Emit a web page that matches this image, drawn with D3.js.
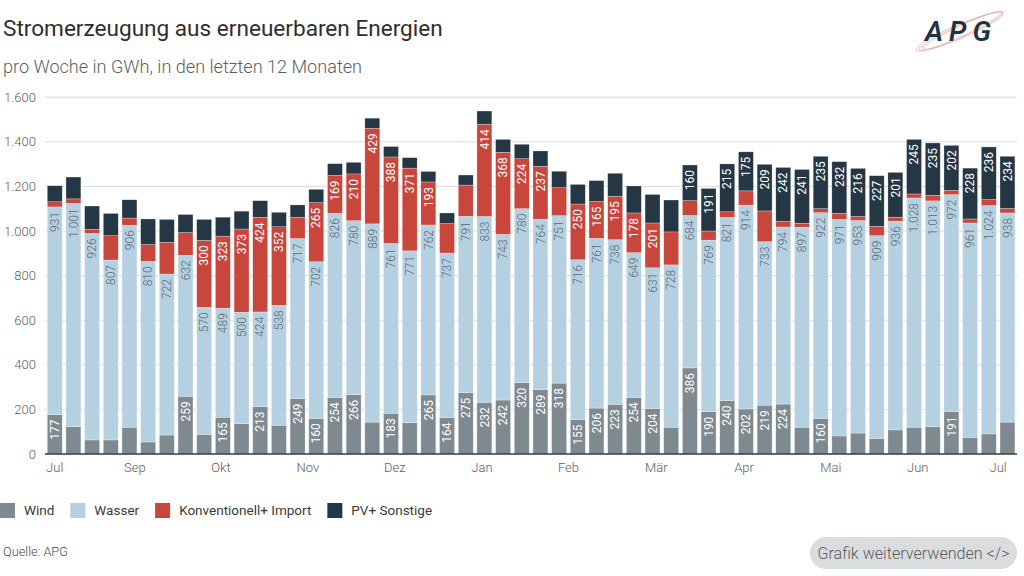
<!DOCTYPE html>
<html>
<head>
<meta charset="utf-8">
<script src="https://cdn.jsdelivr.net/npm/d3@7"></script>
<style>
  html, body { margin: 0; padding: 0; background: #fff; }
  svg { display: block; }
  text { font-family: Roboto, "Open Sans", sans-serif; }
</style>
</head>
<body>
<svg id="chart" width="1024" height="576"></svg>
<script>
// ---------- data ----------
const seriesNames = ["Wind", "Wasser", "Konventionell+ Import", "PV+ Sonstige"];
const wind   = [177,123,63,63,120,54,85,259,88,165,136,213,129,249,160,254,266,143,183,140,265,164,275,232,242,320,289,318,155,206,223,254,204,120,386,190,240,202,219,224,120,160,81,94,70,108,120,122,191,75,90,143];
const wasser = [931,1001,926,807,906,810,722,632,570,489,500,424,538,717,702,826,780,889,761,771,762,737,791,833,743,780,764,751,716,761,738,649,631,728,684,769,821,914,733,794,897,922,971,953,909,936,1028,1013,972,961,1024,938];
const konv   = [23,20,18,109,32,75,142,102,300,323,373,424,352,95,265,169,210,429,388,371,193,132,140,414,368,224,237,125,250,165,195,178,201,148,66,41,25,64,138,25,18,18,27,18,42,18,18,25,19,18,27,20];
const pv     = [72,98,105,100,82,115,103,81,94,85,80,75,65,56,60,53,52,45,47,47,47,48,45,59,58,65,69,74,88,94,103,121,128,143,160,191,215,175,209,242,241,235,232,216,227,201,245,235,202,228,236,234];
const weeks  = wind.map((_, i) => "W" + (i + 1));
const monthLabels = ["Jul","Sep","Okt","Nov","Dez","Jan","Feb","Mär","Apr","Mai","Jun","Jul"];
const monthTickWeek = [0, 4.29, 8.9, 13.55, 18.2, 22.87, 27.5, 32.2, 36.9, 41.55, 46.2, 50.5];
const yTicks = [0, 200, 400, 600, 800, 1000, 1200, 1400, 1600];

const colors = ["#7e8990", "#b5d0e1", "#c8463c", "#253745"];
const labelColors = ["#ffffff", "#5c6870", "#ffffff", "#ffffff"];
const labelMin = 150;

// ---------- setup ----------
const svg = d3.select("#chart");
const de = d3.formatLocale({decimal: ",", thousands: ".", grouping: [3], currency: ["", " €"]});
const fmt = de.format(",");

function fitText(sel, target) {
  const node = sel.node();
  let fs = parseFloat(sel.attr("font-size"));
  const w = node.getComputedTextLength();
  if (w > 0) sel.attr("font-size", (fs * target / w).toFixed(2));
  return sel;
}

const x = d3.scaleBand().domain(weeks).range([45.4, 1016.8]).paddingInner(0.2).paddingOuter(0.1);
const y = d3.scaleLinear().domain([0, 1600]).range([454, 97.2]);

// title
fitText(svg.append("text").attr("x", 3).attr("y", 28).attr("dy", "0.35em")
  .attr("font-size", 20).attr("font-weight", 400).attr("fill", "#2e2e2e")
  .text("Stromerzeugung aus erneuerbaren Energien"), 440);
fitText(svg.append("text").attr("x", 3).attr("y", 67).attr("dy", "0.35em")
  .attr("font-size", 15).attr("font-weight", 300).attr("fill", "#5e5e5e")
  .text("pro Woche in GWh, in den letzten 12 Monaten"), 359);

// logo
const logo = svg.append("g");
[[-24, 46, 6, 0], [-25, 44, 5, 1.5], [-23, 47, 7, -1.5]].forEach(([rot, rx, ry, off]) => {
  logo.append("ellipse").attr("cx", 961 + off).attr("cy", 31).attr("rx", rx).attr("ry", ry)
    .attr("transform", `rotate(${rot},961,31)`).attr("fill", "none")
    .attr("stroke", "#eaa6a2").attr("stroke-width", 0.7).attr("opacity", 0.85);
});
fitText(logo.append("text").attr("x", 961).attr("y", 31).attr("dy", "0.36em").attr("text-anchor", "middle")
  .attr("font-size", 21).attr("font-style", "italic").attr("font-weight", 600)
  .attr("letter-spacing", 6).attr("fill", "#1e3440").text("APG"), 78);

// grid
const grid = svg.append("g");
grid.selectAll("line").data(yTicks.filter(d => d > 0)).join("line")
  .attr("x1", 45).attr("x2", 1017).attr("y1", d => y(d)).attr("y2", d => y(d))
  .attr("stroke", "#dcdcdc").attr("stroke-width", 1);

// y labels
svg.append("g").selectAll("text").data(yTicks).join("text")
  .attr("x", 36).attr("y", d => y(d)).attr("dy", "0.35em").attr("text-anchor", "end")
  .attr("font-size", 13).attr("font-weight", 300).attr("fill", "#5e5e5e").text(d => fmt(d));

// stacked bars
const rows = weeks.map((w, i) => ({week: w, s0: wind[i], s1: wasser[i], s2: konv[i], s3: pv[i]}));
const stack = d3.stack().keys(["s0", "s1", "s2", "s3"])(rows);

const barsG = svg.append("g");
stack.forEach((layer, k) => {
  barsG.append("g").attr("fill", colors[k]).selectAll("rect").data(layer).join("rect")
    .attr("x", d => x(d.data.week)).attr("width", x.bandwidth())
    .attr("y", d => y(d[1])).attr("height", d => y(d[0]) - y(d[1]))
    .attr("stroke", "rgba(255,255,255,0.55)").attr("stroke-width", 0.5);
});

// labels
const labG = svg.append("g");
stack.forEach((layer, k) => {
  layer.forEach(d => {
    const v = d[1] - d[0];
    if (k !== 1 && v < labelMin) return;
    const cx = x(d.data.week) + x.bandwidth() / 2;
    const ty = y(d[1]) + 5;
    labG.append("text").attr("transform", `translate(${cx},${ty}) rotate(-90)`)
      .attr("text-anchor", "end").attr("dy", "0.35em")
      .attr("font-size", 12).attr("font-weight", k === 1 ? 300 : 400)
      .attr("fill", labelColors[k]).text(fmt(v));
  });
});

// baseline
svg.append("line").attr("x1", 45).attr("x2", 1017).attr("y1", y(0)).attr("y2", y(0))
  .attr("stroke", "#333a40").attr("stroke-width", 1.5);

// x labels
const x0 = x(weeks[0]) + x.bandwidth() / 2;
svg.append("g").selectAll("text").data(monthLabels).join("text")
  .attr("x", (d, i) => x0 + monthTickWeek[i] * x.step()).attr("y", 467).attr("dy", "0.35em")
  .attr("text-anchor", "middle").attr("font-size", 13).attr("font-weight", 300)
  .attr("fill", "#5e5e5e").text(d => d);

// legend
const leg = svg.append("g");
let lx = 0;
seriesNames.forEach((name, k) => {
  leg.append("rect").attr("x", lx).attr("y", 503).attr("width", 15).attr("height", 15).attr("fill", colors[k]);
  const t = leg.append("text").attr("x", lx + 24).attr("y", 510.5).attr("dy", "0.35em")
    .attr("font-size", 13.5).attr("fill", "#3a3a3a").text(name);
  lx = lx + 24 + t.node().getComputedTextLength() + 16;
});

// source
fitText(svg.append("text").attr("x", 3).attr("y", 552).attr("dy", "0.35em").attr("font-size", 12)
  .attr("font-weight", 300).attr("fill", "#4a4a4a").text("Quelle: APG"), 65);

// button
svg.append("rect").attr("x", 810).attr("y", 537).attr("width", 207).attr("height", 32).attr("rx", 16)
  .attr("fill", "#dadde0");
fitText(svg.append("text").attr("x", 913.5).attr("y", 553).attr("dy", "0.35em").attr("text-anchor", "middle")
  .attr("font-size", 14).attr("font-weight", 300).attr("fill", "#5a5a5a").text("Grafik weiterverwenden </>"), 192);
</script>
</body>
</html>
